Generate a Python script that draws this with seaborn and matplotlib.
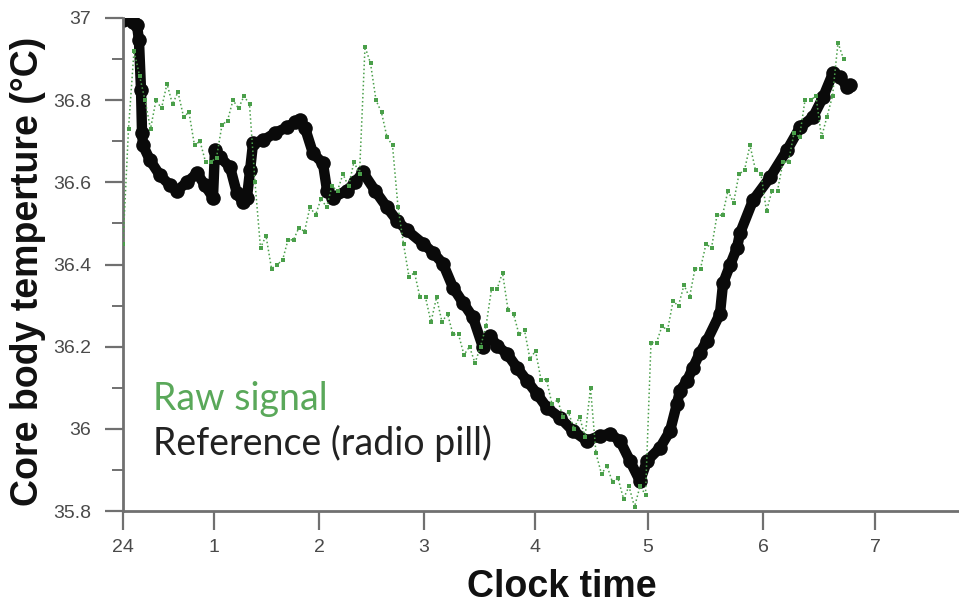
import matplotlib
matplotlib.use("Agg")
import matplotlib.pyplot as plt
import seaborn as sns
import pandas as pd
from matplotlib.ticker import MultipleLocator, FixedLocator

# ---------------- data ----------------
# Reference (radio pill) core body temperature, x in hours on the chart's time axis
ref_time = [0.170, 0.215, 0.261, 0.297, 0.315, 0.334, 0.343, 0.352, 0.415, 0.506,
            0.597, 0.661, 0.752, 0.843, 0.915, 0.988, 1.006, 1.052, 1.143, 1.206,
            1.261, 1.297, 1.325, 1.352, 1.443, 1.552, 1.661, 1.734, 1.779, 1.825,
            1.897, 1.988, 2.025, 2.079, 2.206, 2.279, 2.352, 2.461, 2.570, 2.661,
            2.752, 2.897, 2.988, 3.079, 3.170, 3.261, 3.352, 3.443, 3.506, 3.570,
            3.661, 3.752, 3.843, 3.934, 4.025, 4.143, 4.261, 4.388, 4.506, 4.597,
            4.688, 4.779, 4.870, 4.934, 5.052, 5.143, 5.206, 5.234, 5.297, 5.352,
            5.415, 5.479, 5.597, 5.625, 5.688, 5.752, 5.779, 5.897, 6.052, 6.206,
            6.325, 6.443, 6.534, 6.625, 6.688, 6.752, 6.779]
ref_temp = [36.995, 37.000, 36.990, 36.983, 36.946, 36.824, 36.720, 36.690, 36.654, 36.617,
            36.593, 36.580, 36.600, 36.622, 36.593, 36.563, 36.678, 36.661, 36.637, 36.573,
            36.551, 36.563, 36.629, 36.695, 36.702, 36.720, 36.734, 36.746, 36.751, 36.732,
            36.671, 36.646, 36.580, 36.563, 36.580, 36.600, 36.624, 36.580, 36.539, 36.507,
            36.483, 36.451, 36.429, 36.402, 36.344, 36.307, 36.271, 36.198, 36.227, 36.202,
            36.183, 36.149, 36.117, 36.085, 36.051, 36.027, 35.995, 35.971, 35.983, 35.988,
            35.971, 35.922, 35.873, 35.922, 35.954, 35.995, 36.061, 36.093, 36.117, 36.149,
            36.185, 36.215, 36.280, 36.354, 36.398, 36.441, 36.476, 36.556, 36.612, 36.678,
            36.734, 36.759, 36.807, 36.866, 36.856, 36.832, 36.837]

# Raw signal
raw_time = [0.17, 0.22, 0.27, 0.32, 0.37, 0.42, 0.47, 0.52, 0.57, 0.62,
            0.67, 0.72, 0.77, 0.82, 0.87, 0.92, 0.97, 1.02, 1.07, 1.12,
            1.17, 1.22, 1.27, 1.32, 1.37, 1.42, 1.47, 1.52, 1.57, 1.62,
            1.67, 1.72, 1.77, 1.82, 1.87, 1.92, 1.97, 2.02, 2.07, 2.12,
            2.17, 2.22, 2.27, 2.32, 2.37, 2.42, 2.47, 2.52, 2.57, 2.62,
            2.67, 2.72, 2.77, 2.82, 2.87, 2.92, 2.97, 3.02, 3.07, 3.12,
            3.17, 3.22, 3.27, 3.32, 3.37, 3.42, 3.47, 3.52, 3.57, 3.62,
            3.67, 3.72, 3.77, 3.82, 3.87, 3.92, 3.97, 4.02, 4.07, 4.12,
            4.17, 4.22, 4.27, 4.32, 4.37, 4.42, 4.47, 4.52, 4.57, 4.62,
            4.67, 4.72, 4.77, 4.82, 4.87, 4.92, 4.97, 5.02, 5.07, 5.12,
            5.17, 5.22, 5.27, 5.32, 5.37, 5.42, 5.47, 5.52, 5.57, 5.62,
            5.67, 5.72, 5.77, 5.82, 5.87, 5.92, 5.97, 6.02, 6.07, 6.12,
            6.17, 6.22, 6.27, 6.32, 6.37, 6.42, 6.47, 6.52, 6.57, 6.62,
            6.67, 6.72]
raw_temp = [36.45, 36.73, 36.92, 36.86, 36.80, 36.73, 36.80, 36.78, 36.84, 36.79,
            36.82, 36.76, 36.77, 36.69, 36.70, 36.65, 36.65, 36.66, 36.74, 36.75,
            36.80, 36.78, 36.81, 36.79, 36.60, 36.44, 36.47, 36.39, 36.40, 36.41,
            36.46, 36.46, 36.49, 36.48, 36.54, 36.52, 36.56, 36.54, 36.59, 36.58,
            36.62, 36.59, 36.65, 36.62, 36.93, 36.89, 36.80, 36.77, 36.71, 36.69,
            36.54, 36.45, 36.37, 36.38, 36.32, 36.32, 36.26, 36.32, 36.26, 36.28,
            36.23, 36.23, 36.18, 36.20, 36.16, 36.20, 36.25, 36.34, 36.34, 36.38,
            36.29, 36.28, 36.23, 36.24, 36.17, 36.19, 36.12, 36.12, 36.06, 36.07,
            36.03, 36.04, 36.00, 36.03, 35.98, 36.10, 35.94, 35.89, 35.91, 35.87,
            35.88, 35.83, 35.86, 35.81, 35.86, 35.84, 36.21, 36.21, 36.25, 36.24,
            36.31, 36.30, 36.35, 36.32, 36.39, 36.39, 36.45, 36.44, 36.52, 36.52,
            36.58, 36.55, 36.62, 36.63, 36.69, 36.63, 36.62, 36.53, 36.58, 36.58,
            36.65, 36.65, 36.72, 36.71, 36.80, 36.80, 36.81, 36.71, 36.76, 36.81,
            36.94, 36.90]

tick_pos = [0.17, 0.997, 1.952, 2.906, 3.915, 4.943, 5.988, 7.006]
tick_labels = ["24", "1", "2", "3", "4", "5", "6", "7"]
y_ticks = [35.8, 36.0, 36.2, 36.4, 36.6, 36.8, 37.0]
y_labels = ["35.8", "36", "36.2", "36.4", "36.6", "36.8", "37"]

ref_df = pd.DataFrame({"time": ref_time, "temp": ref_temp})
raw_df = pd.DataFrame({"time": raw_time, "temp": raw_temp})

# ---------------- plot ----------------
sns.set_theme(style="white")
plt.rcParams['font.family'] = ['Liberation Sans', 'DejaVu Sans']

fig = plt.figure(figsize=(9.59, 6.07), dpi=100)
ax = fig.add_axes([123 / 959, 1 - 511 / 607, 1 - 123 / 959, (511 - 18) / 607])

sns.lineplot(data=ref_df, x="time", y="temp", ax=ax, color="#0a0a0a",
             linewidth=7.5, marker="o", markersize=10.5, markeredgewidth=0,
             estimator=None, sort=False, zorder=2)
sns.lineplot(data=raw_df, x="time", y="temp", ax=ax, color="#4a9f4a",
             linewidth=1.1, linestyle=":", marker="s", markersize=2.4,
             markeredgewidth=0, estimator=None, sort=False, zorder=3)

ax.set_xlim(0.17, 7.77)
ax.set_ylim(35.8, 37.0)

ax.xaxis.set_major_locator(FixedLocator(tick_pos))
ax.set_xticklabels(tick_labels)
ax.yaxis.set_major_locator(FixedLocator(y_ticks))
ax.set_yticklabels(y_labels)
ax.yaxis.set_minor_locator(MultipleLocator(0.1))

for s in ["top", "right"]:
    ax.spines[s].set_visible(False)
for s in ["left", "bottom"]:
    ax.spines[s].set_color("#707070")
    ax.spines[s].set_linewidth(2)

ax.tick_params(axis="x", which="major", bottom=True, direction="out",
               length=14, width=1.6, color="#707070",
               labelcolor="#4a4a4a", labelsize=14, pad=6)
ax.tick_params(axis="y", which="major", left=True, direction="out",
               length=13, width=1.6, color="#707070",
               labelcolor="#4a4a4a", labelsize=14, pad=10)
ax.tick_params(axis="y", which="minor", left=True, direction="out",
               length=8, width=1.4, color="#707070")

ax.set_xlabel("Clock time", fontsize=27, fontweight="bold", color="#111111")
ax.xaxis.set_label_coords(0.525, -0.174)
ax.xaxis.label.set_va("baseline")
ax.set_ylabel("Core body temperture (°C)", fontsize=27, fontweight="bold",
              color="#111111")
ax.yaxis.set_label_coords(-0.092, 0.487)

ax.text(0.036, 0.205, "Raw signal", transform=ax.transAxes,
        fontfamily=["Lato", "DejaVu Sans"], fontsize=27, color="#5aa85a",
        va="baseline", ha="left")
ax.text(0.036, 0.114, "Reference (radio pill)", transform=ax.transAxes,
        fontfamily=["Lato", "DejaVu Sans"], fontsize=27, color="#222222",
        va="baseline", ha="left")

fig.savefig("out.png", dpi=100)
